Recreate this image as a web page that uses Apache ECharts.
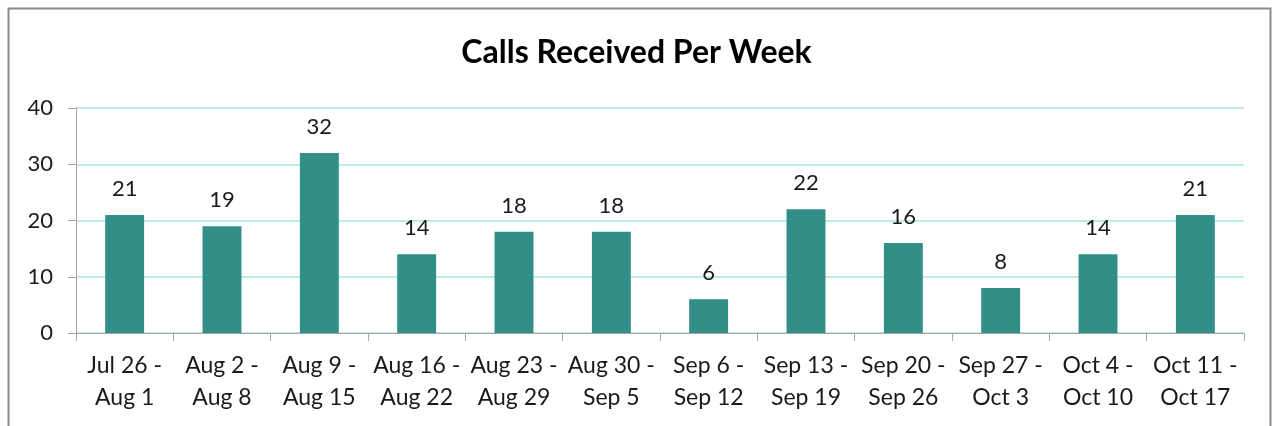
<!DOCTYPE html>
<html>
<head>
<meta charset="utf-8">
<script src="https://cdn.jsdelivr.net/npm/echarts@6/dist/echarts.min.js"></script>
<style>
  html, body { margin: 0; padding: 0; background: #fff; }
  #chart { width: 1273px; height: 426px; }
</style>
</head>
<body>
<div id="chart"></div>
<script>
// week ranges (two-line labels)
const weeks = [
  "Jul 26 -\nAug 1", "Aug 2 -\nAug 8", "Aug 9 -\nAug 15", "Aug 16 -\nAug 22",
  "Aug 23 -\nAug 29", "Aug 30 -\nSep 5", "Sep 6 -\nSep 12", "Sep 13 -\nSep 19",
  "Sep 20 -\nSep 26", "Sep 27 -\nOct 3", "Oct 4 -\nOct 10", "Oct 11 -\nOct 17"
];
const calls = [21, 19, 32, 14, 18, 18, 6, 22, 16, 8, 14, 21];

const chart = echarts.init(document.getElementById("chart"));
chart.setOption({
  animation: false,
  textStyle: { fontFamily: "Lato" },
  title: {
    text: "Calls Received Per Week",
    left: "center",
    top: 32,
    textStyle: { fontSize: 32, fontWeight: "bold", color: "#000", fontFamily: "Lato" }
  },
  graphic: [{
    type: "rect",
    shape: { x: 8.5, y: 8.5, width: 1262, height: 430 },
    style: { fill: null, stroke: "#8a8a8a", lineWidth: 2 },
    silent: true
  }],
  grid: { left: 76, right: 29, top: 108, bottom: 93 },
  xAxis: {
    type: "category",
    data: weeks,
    axisLine: { lineStyle: { color: "#a6a6a6", width: 1 } },
    axisTick: { show: true, length: 8, lineStyle: { color: "#a6a6a6" } },
    axisLabel: { color: "#1a1a1a", fontSize: 23, lineHeight: 32, margin: 17, interval: 0 }
  },
  yAxis: {
    type: "value",
    min: 0, max: 40, interval: 10,
    axisLine: { show: true, lineStyle: { color: "#a6a6a6" } },
    axisTick: { show: true, length: 8, lineStyle: { color: "#a6a6a6" } },
    axisLabel: { color: "#1a1a1a", fontSize: 22, margin: 23 },
    splitLine: { lineStyle: { color: "#a9e6df", width: 1.5 } }
  },
  series: [{
    type: "bar",
    data: calls,
    barWidth: "40%",
    itemStyle: { color: "#328f87" },
    label: {
      show: true, position: "top", distance: 15,
      color: "#1a1a1a", fontSize: 22
    }
  }]
});
</script>
</body>
</html>
